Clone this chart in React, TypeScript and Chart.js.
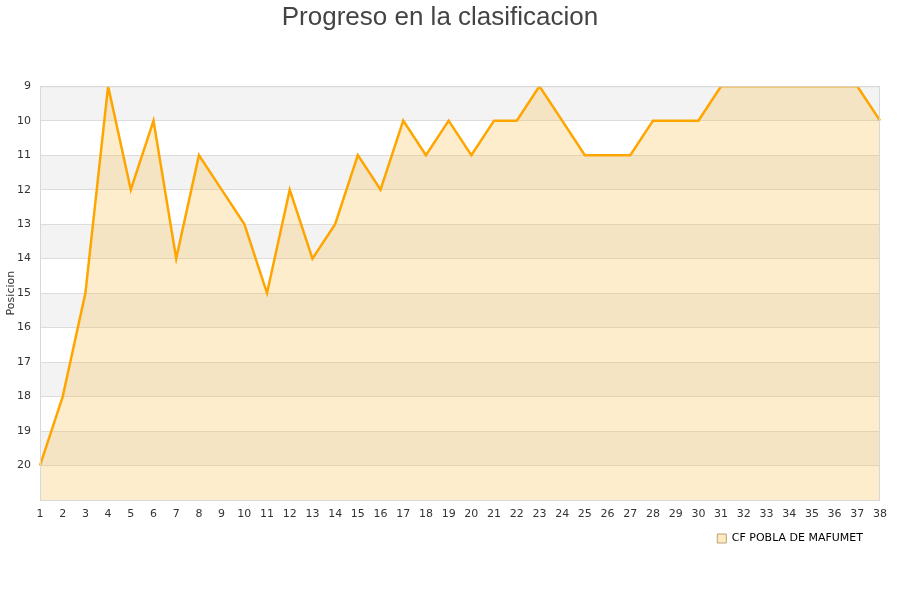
import { useEffect, useRef } from 'react'
import { Chart, registerables } from 'chart.js'
Chart.register(...registerables)

const jornadas = ['1', '2', '3', '4', '5', '6', '7', '8', '9', '10', '11', '12', '13', '14', '15', '16', '17', '18', '19', '20', '21', '22', '23', '24', '25', '26', '27', '28', '29', '30', '31', '32', '33', '34', '35', '36', '37', '38']
const posiciones = [20, 18, 15, 9, 12, 10, 14, 11, 12, 13, 15, 12, 14, 13, 11, 12, 10, 11, 10, 11, 10, 10, 9, 10, 11, 11, 11, 10, 10, 10, 9, 9, 9, 9, 9, 9, 9, 10]
const equipo = 'CF POBLA DE MAFUMET'
// gray bands start at these positions (each one unit tall)
const bandas = [9, 11, 13, 15, 17, 19]
const posMin = 9
const posMax = 21

const bandPlugin = {
    id: 'bands',
    beforeDraw(chart: any) {
        const { ctx, chartArea } = chart
        const y = chart.scales.y
        ctx.save()
        ctx.fillStyle = '#f3f3f3'
        for (const b of bandas) {
            const top = y.getPixelForValue(b)
            const bot = y.getPixelForValue(b + 1)
            ctx.fillRect(chartArea.left, top, chartArea.right - chartArea.left, bot - top)
        }
        ctx.restore()
    },
    afterDraw(chart: any) {
        const { ctx, chartArea } = chart
        ctx.save()
        ctx.strokeStyle = '#d8d8d8'
        ctx.lineWidth = 1
        ctx.strokeRect(chartArea.left + 0.5, chartArea.top + 0.5, chartArea.right - chartArea.left - 1, chartArea.bottom - chartArea.top)
        ctx.restore()
    },
}

export default function App() {
    const canvasRef = useRef<HTMLCanvasElement>(null)
    const chartRef = useRef<Chart | null>(null)

    useEffect(() => {
        if (!canvasRef.current) return
        document.body.style.margin = '0'
        const ctx = canvasRef.current.getContext('2d')!
        chartRef.current?.destroy()
        chartRef.current = new Chart(ctx, {
            type: 'line',
            data: {
                labels: jornadas,
                datasets: [
                    {
                        label: equipo,
                        data: posiciones,
                        borderColor: '#ffa500',
                        backgroundColor: 'rgba(251,183,51,0.25)',
                        fill: { value: posMax },
                        tension: 0, borderWidth: 2.5, pointRadius: 0,
                    },
                ],
            },
            plugins: [bandPlugin],
            options: {
                animation: false,
                responsive: true, maintainAspectRatio: false,
                layout: { padding: { left: 0, right: 20, top: 0, bottom: 46 } },
                plugins: {
                    title: {
                        display: true,
                        text: 'Progreso en la clasificacion',
                        color: '#444',
                        font: { family: '"Liberation Sans", Arial, sans-serif', size: 26, weight: 'normal' },
                        padding: { top: 2, bottom: 53 },
                    },
                    legend: {
                        position: 'bottom', align: 'end',
                        labels: {
                            color: '#000',
                            boxWidth: 9, boxHeight: 9,
                            font: { family: '"DejaVu Sans", sans-serif', size: 11 },
                            // trailing spaces nudge the item left like the original
                            generateLabels: () => [{
                                text: equipo + '\u00a0\u00a0',
                                fillStyle: 'rgba(251,183,51,0.3)',
                                strokeStyle: '#b8a27a',
                                lineWidth: 1,
                                fontColor: '#000',
                                datasetIndex: 0,
                            }],
                        },
                    },
                    tooltip: { enabled: false },
                },
                scales: {
                    x: {
                        offset: false,
                        grid: { display: false },
                        border: { display: false },
                        ticks: { color: '#333', font: { family: '"DejaVu Sans", sans-serif', size: 11 }, maxRotation: 0, autoSkip: false, padding: 0 },
                        afterFit: (s: any) => { s.height = 23 },
                    },
                    y: {
                        reverse: true, min: posMin, max: posMax,
                        grid: { color: '#dcdcdc', drawTicks: false },
                        border: { display: false },
                        ticks: {
                            stepSize: 1, color: '#333', padding: 9,
                            font: { family: '"DejaVu Sans", sans-serif', size: 11 },
                            callback: (v: any) => (v === posMax ? '' : String(v)),
                        },
                        title: { display: true, text: 'Posicion', color: '#333', font: { family: '"DejaVu Sans", sans-serif', size: 11 }, padding: { top: 5, bottom: 0 } },
                        afterFit: (s: any) => { s.width = 40 },
                    },
                },
            },
        })
        return () => chartRef.current?.destroy()
    }, [])

    return (
        <div style={{ position: 'relative', width: 900, height: 600 }}>
            <canvas ref={canvasRef} />
        </div>
    )
}
